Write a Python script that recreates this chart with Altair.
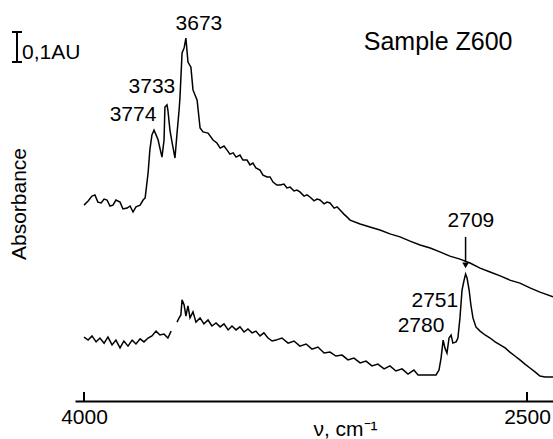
import altair as alt
import pandas as pd

# ---- data (wavenumber cm-1, absorbance AU) ----
upper_nu = [4000, 3986, 3973, 3963, 3953, 3942, 3932, 3922, 3912, 3902, 3892, 3878, 3868, 3854,
            3844, 3834, 3824, 3810, 3800, 3793, 3783, 3777, 3770, 3763, 3756, 3749, 3743, 3736,
            3729, 3726, 3719, 3716, 3709, 3705, 3699, 3692, 3685, 3678, 3675, 3668, 3661, 3655,
            3648, 3638, 3631, 3617, 3607, 3597, 3580, 3563, 3550, 3539, 3526, 3516, 3506, 3495,
            3485, 3472, 3462, 3448, 3438, 3428, 3418, 3404, 3394, 3380, 3370, 3360, 3347, 3336,
            3323, 3313, 3302, 3289, 3279, 3269, 3255, 3245, 3235, 3221, 3211, 3201, 3187, 3177,
            3167, 3153, 3143, 3133, 3120, 3109, 3099, 3065, 3032, 2998, 2964, 2930, 2896, 2862,
            2828, 2795, 2761, 2727, 2693, 2659, 2625, 2591, 2558, 2524, 2490, 2456, 2412]
upper_abs = [0.653, 0.667, 0.683, 0.687, 0.663, 0.660, 0.673, 0.670, 0.650, 0.653, 0.670, 0.663,
             0.640, 0.643, 0.650, 0.630, 0.647, 0.653, 0.670, 0.677, 0.760, 0.837, 0.887, 0.903,
             0.887, 0.870, 0.843, 0.813, 0.870, 0.980, 0.987, 0.970, 0.903, 0.880, 0.847, 0.810,
             0.893, 0.970, 1.013, 1.160, 1.177, 1.210, 1.130, 1.113, 1.037, 1.003, 0.910, 0.897,
             0.893, 0.870, 0.860, 0.843, 0.850, 0.837, 0.823, 0.827, 0.813, 0.820, 0.803, 0.803,
             0.787, 0.793, 0.777, 0.770, 0.753, 0.747, 0.747, 0.730, 0.720, 0.720, 0.723, 0.710,
             0.713, 0.700, 0.703, 0.697, 0.683, 0.687, 0.680, 0.667, 0.673, 0.670, 0.657, 0.663,
             0.660, 0.643, 0.647, 0.637, 0.623, 0.613, 0.603, 0.590, 0.580, 0.570, 0.557, 0.547,
             0.533, 0.520, 0.510, 0.497, 0.483, 0.473, 0.460, 0.443, 0.430, 0.417, 0.403, 0.393,
             0.377, 0.363, 0.347]

lower1_nu = [4000, 3986, 3973, 3959, 3946, 3932, 3919, 3905, 3892, 3878, 3865, 3851, 3837, 3824,
             3810, 3797, 3783, 3770, 3756, 3743, 3729, 3716, 3705]
lower1_abs = [0.213, 0.203, 0.217, 0.197, 0.210, 0.193, 0.213, 0.187, 0.203, 0.177, 0.200, 0.183,
              0.203, 0.190, 0.207, 0.197, 0.210, 0.217, 0.233, 0.220, 0.223, 0.210, 0.233]

lower2_nu = [3685, 3678, 3672, 3668, 3661, 3655, 3648, 3641, 3631, 3621, 3607, 3594, 3580, 3567,
             3553, 3539, 3526, 3512, 3499, 3485, 3472, 3458, 3445, 3431, 3418, 3404, 3391, 3377,
             3363, 3350, 3330, 3309, 3289, 3269, 3248, 3228, 3208, 3187, 3167, 3147, 3126, 3106,
             3086, 3065, 3045, 3025, 3005, 2984, 2964, 2944, 2923, 2903, 2883, 2869, 2845, 2808,
             2798, 2791, 2784, 2778, 2771, 2764, 2757, 2751, 2740, 2734, 2727, 2720, 2713, 2708,
             2703, 2696, 2690, 2683, 2673, 2659, 2642, 2625, 2608, 2591, 2574, 2558, 2541, 2524,
             2507, 2490, 2473, 2456, 2439, 2412]
lower2_abs = [0.263, 0.277, 0.287, 0.337, 0.320, 0.283, 0.317, 0.277, 0.297, 0.263, 0.277, 0.257,
              0.270, 0.250, 0.260, 0.247, 0.257, 0.237, 0.250, 0.237, 0.247, 0.230, 0.240, 0.227,
              0.233, 0.217, 0.227, 0.210, 0.200, 0.203, 0.210, 0.193, 0.200, 0.183, 0.190, 0.173,
              0.180, 0.160, 0.163, 0.150, 0.153, 0.137, 0.143, 0.127, 0.133, 0.117, 0.123, 0.107,
              0.117, 0.100, 0.107, 0.090, 0.103, 0.087, 0.087, 0.087, 0.103, 0.143, 0.203, 0.177,
              0.160, 0.210, 0.220, 0.193, 0.197, 0.210, 0.277, 0.370, 0.403, 0.423, 0.410, 0.370,
              0.320, 0.277, 0.247, 0.233, 0.220, 0.210, 0.197, 0.187, 0.177, 0.163, 0.150, 0.137,
              0.123, 0.110, 0.097, 0.083, 0.080, 0.080]

peak_labels = ["3673", "3733", "3774", "2709", "2751", "2780"]
label_nu = [3611, 3770, 3834, 2690, 2812, 2859]
label_abs = [1.257, 1.047, 0.953, 0.600, 0.333, 0.250]

arrow_nu = [2708]
arrow_top = [0.547]
arrow_end = [0.463]
arrow_head = [0.452]

sample_text = ["Sample Z600"]
sample_nu = [2801]
sample_abs = [1.197]

bar_low = [1.13]
bar_high = [1.23]
bar_text = ["0,1AU"]

tick_values = [4000, 2500]
tick_len = [0.03]

FONT = "Liberation Sans"

rows = []
for n, a in zip(upper_nu, upper_abs):
    rows.append({"nu": n, "A": a, "s": "upper"})
for n, a in zip(lower1_nu, lower1_abs):
    rows.append({"nu": n, "A": a, "s": "lower1"})
for n, a in zip(lower2_nu, lower2_abs):
    rows.append({"nu": n, "A": a, "s": "lower2"})
spec = pd.DataFrame(rows)

labels_df = pd.DataFrame({"t": peak_labels, "nu": label_nu, "A": label_abs})
arrow_df = pd.DataFrame({"nu": arrow_nu, "A": arrow_top, "A2": arrow_end, "H": arrow_head})
sample_df = pd.DataFrame({"t": sample_text, "nu": sample_nu, "A": sample_abs})
bar_df = pd.DataFrame({"lo": bar_low, "hi": bar_high, "t": bar_text})
ticks_df = pd.DataFrame({"nu": tick_values, "A": [0.0, 0.0], "A2": tick_len * 2})

xscale = alt.Scale(domain=[4030.5, 2412], nice=False, zero=False)
yscale = alt.Scale(domain=[0, 1.3367], nice=False, zero=False)

xaxis = alt.Axis(values=tick_values, format="d", ticks=False, grid=False,
                 domainColor="black", domainWidth=2, labelFont=FONT, labelFontSize=21,
                 labelColor="black", labelPadding=5, labelFlush=False,
                 title="ν, cm⁻¹", titleFont=FONT, titleFontSize=21, titleFontWeight="normal",
                 titleColor="black", titleY=34, titleBaseline="alphabetic", titleX=270)


def X(field="nu"):
    return alt.X(f"{field}:Q", scale=xscale, axis=xaxis)


def Y(field="A"):
    return alt.Y(f"{field}:Q", scale=yscale, axis=None)


lines = alt.Chart(spec).mark_line(color="black", strokeWidth=1.5).encode(
    x=X(), y=Y(), detail="s:N", order="idx:Q"
).transform_window(idx="row_number()", groupby=["s"])

peak_text = alt.Chart(labels_df).mark_text(
    font=FONT, fontSize=21, color="black", align="center", baseline="middle"
).encode(x=X(), y=Y(), text="t:N")

arrow_line = alt.Chart(arrow_df).mark_rule(color="black", strokeWidth=1.5).encode(
    x=X(), y=Y(), y2="A2:Q"
)
arrow_tip = alt.Chart(arrow_df).mark_point(
    shape="triangle-down", filled=True, color="black", size=45, opacity=1
).encode(x=X(), y=Y("H"))

sample = alt.Chart(sample_df).mark_text(
    font=FONT, fontSize=25, color="black", align="center", baseline="middle"
).encode(x=X(), y=Y(), text="t:N")

axis_ticks = alt.Chart(ticks_df).mark_rule(color="black", strokeWidth=2).encode(
    x=X(), y=Y(), y2="A2:Q"
)

bar_v = alt.Chart(bar_df).mark_rule(color="black", strokeWidth=2).encode(
    x=alt.value(-58), y=Y("lo"), y2="hi:Q"
)
bar_cap_lo = alt.Chart(bar_df).mark_rule(color="black", strokeWidth=2).encode(
    x=alt.value(-63), x2=alt.value(-53), y=Y("lo")
)
bar_cap_hi = alt.Chart(bar_df).mark_rule(color="black", strokeWidth=2).encode(
    x=alt.value(-63), x2=alt.value(-53), y=Y("hi")
)
bar_label = alt.Chart(bar_df).mark_text(
    font=FONT, fontSize=21, color="black", align="left", baseline="middle", dx=0
).encode(x=alt.value(-53), y=alt.Y("lo:Q", scale=yscale, axis=None), yOffset=alt.value(-9), text="t:N")

ytitle = alt.Chart(pd.DataFrame({"t": ["Absorbance"]})).mark_text(
    font=FONT, fontSize=21, color="black", align="center", baseline="middle", angle=270
).encode(x=alt.value(-55), y=alt.value(204), text="t:N")

chart = alt.layer(
    lines, peak_text, arrow_line, arrow_tip, sample, axis_ticks,
    bar_v, bar_cap_lo, bar_cap_hi, bar_label, ytitle
).properties(
    width=478, height=401,
    autosize=alt.AutoSizeParams(type="none"),
    padding={"left": 75, "top": 0, "right": 0, "bottom": 38},
    background="white",
).configure_view(stroke=None)

chart.save("out.html", embed_options={"renderer": "svg", "actions": False})
